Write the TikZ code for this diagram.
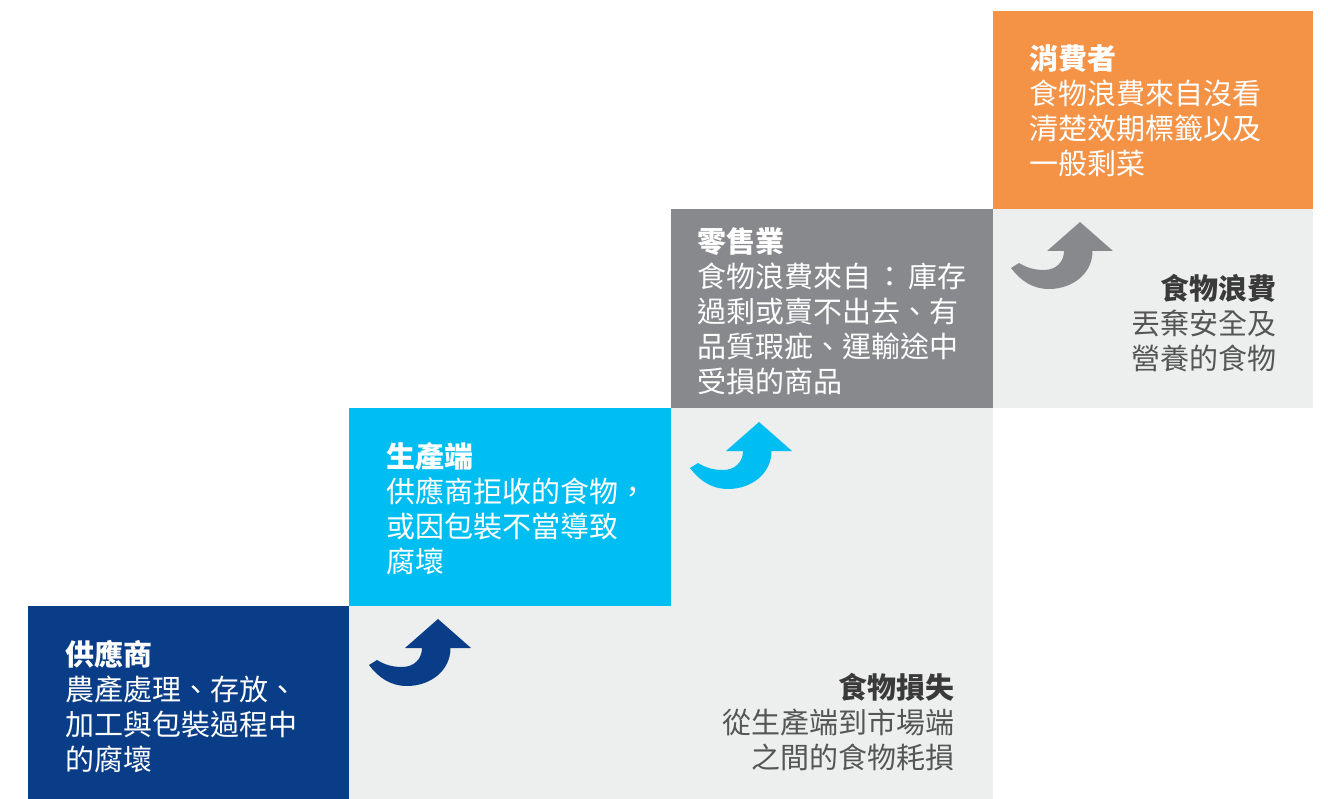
\documentclass[tikz,border=0pt]{standalone}
\usepackage{fontspec}
\newfontfamily\cjk{Noto Sans CJK TC}
\definecolor{cdblue}{HTML}{0A3D87}
\definecolor{ccyan}{HTML}{00BEF2}
\definecolor{cgray}{HTML}{88898D}
\definecolor{corange}{HTML}{F49246}
\definecolor{clight}{HTML}{EDEEEE}
\definecolor{chead}{HTML}{3A3A3A}
\definecolor{cbody}{HTML}{555555}
\tikzset{
  txt/.style={inner sep=0pt, font=\cjk\fontsize{29}{35}\selectfont},
  wtxt/.style={txt, text=white, anchor=north west, align=left},
  gtxt/.style={txt, text=cbody, anchor=north east, align=right},
  curvearrow/.pic={
    \fill[pic actions] (0,0) -- (33,29) -- (12.5,29)
      .. controls (12.5,52) and (-8,67) .. (-31,67)
      .. controls (-48,67) and (-60,58) .. (-69,46)
      -- (-61,41)
      .. controls (-53,46) and (-45,48) .. (-36,48)
      .. controls (-24,48) and (-16,40) .. (-16,29)
      -- (-33,29) -- cycle;
  }
}
\begin{document}
\begin{tikzpicture}[x=1pt,y=-1pt]
\useasboundingbox (0,0) rectangle (1328,799);
\fill[white] (0,0) rectangle (1328,799);
% light background areas
\fill[clight] (349,606) rectangle (993,799);
\fill[clight] (671,408) rectangle (993,606);
\fill[clight] (993,209) rectangle (1313,408);
% coloured steps
\fill[cdblue] (28,606) rectangle (349,799);
\fill[ccyan] (349,408) rectangle (671,606);
\fill[cgray] (671,209) rectangle (993,408);
\fill[corange] (993,11) rectangle (1313,209);
% arrows
\pic[fill=cdblue] at (438,619) {curvearrow};
\pic[fill=ccyan] at (759,422) {curvearrow};
\pic[fill=cgray] at (1080,222) {curvearrow};
% texts
\node[wtxt] (supplier) at (65,640) {{\bfseries 供應商}\\農產處理、存放、\\加工與包裝過程中\\的腐壞};
\node[wtxt] (producer) at (386,442) {{\bfseries 生產端}\\供應商拒收的食物，\\或因包裝不當導致\\腐壞};
\node[wtxt] (retail) at (697,227) {{\bfseries 零售業}\\食物浪費來自\hspace{4pt}：\hspace{4pt}庫存\\過剩或賣不出去、有\\品質瑕疵、運輸途中\\受損的商品};
\node[wtxt] (consumer) at (1029,44) {{\bfseries 消費者}\\食物浪費來自沒看\\清楚效期標籤以及\\一般剩菜};
\node[gtxt] (waste) at (1277,274) {{\bfseries\color{chead}食物浪費}\\丟棄安全及\\營養的食物};
\node[gtxt] (loss) at (955,673) {{\bfseries\color{chead}食物損失}\\從生產端到市場端\\之間的食物耗損};
\end{tikzpicture}
\end{document}
